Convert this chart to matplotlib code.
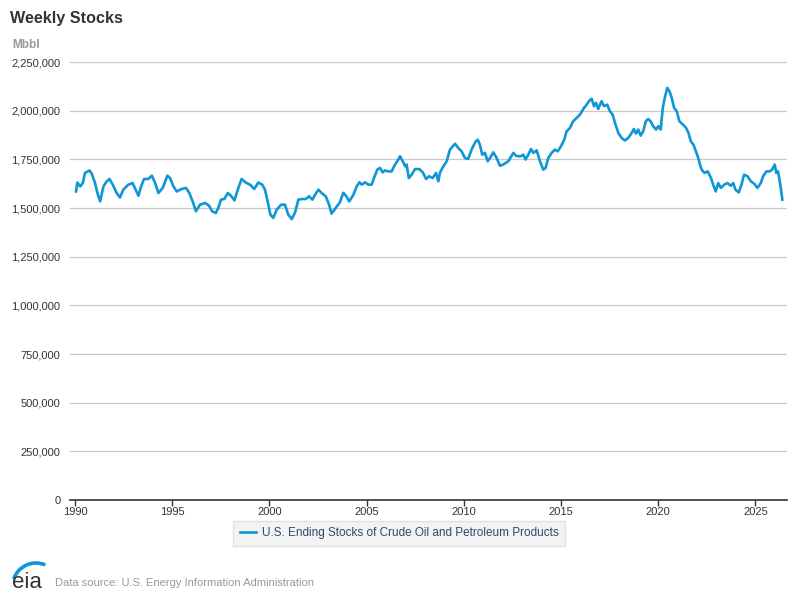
import matplotlib
matplotlib.use('Agg')
import matplotlib.pyplot as plt
from matplotlib.patches import Arc
from matplotlib.ticker import FuncFormatter

plt.rcParams['font.family'] = ['Liberation Sans', 'DejaVu Sans']

# weekly stocks (decimal year, thousand barrels)
years = [
    1990.05, 1990.12, 1990.26, 1990.40, 1990.51, 1990.74, 1990.86, 1991.03, 1991.15, 1991.29,
    1991.46, 1991.63, 1991.77, 1991.94, 1992.14, 1992.31, 1992.48, 1992.74, 1992.96, 1993.12,
    1993.26, 1993.40, 1993.55, 1993.77, 1993.95, 1994.12, 1994.29, 1994.51, 1994.75, 1994.89,
    1995.06, 1995.23, 1995.49, 1995.71, 1995.88, 1996.05, 1996.22, 1996.43, 1996.69, 1996.89,
    1997.06, 1997.24, 1997.37, 1997.51, 1997.68, 1997.86, 1998.02, 1998.20, 1998.37, 1998.57,
    1998.78, 1999.00, 1999.22, 1999.43, 1999.63, 1999.77, 1999.91, 2000.05, 2000.20, 2000.37,
    2000.60, 2000.80, 2000.97, 2001.15, 2001.32, 2001.49, 2001.69, 2001.87, 2002.04, 2002.21,
    2002.38, 2002.52, 2002.69, 2002.90, 2003.07, 2003.20, 2003.41, 2003.63, 2003.80, 2003.94,
    2004.11, 2004.32, 2004.49, 2004.63, 2004.76, 2004.92, 2005.09, 2005.26, 2005.38, 2005.55,
    2005.69, 2005.83, 2005.95, 2006.12, 2006.29, 2006.46, 2006.58, 2006.72, 2006.86, 2006.99,
    2007.06, 2007.17, 2007.32, 2007.49, 2007.71, 2007.89, 2008.06, 2008.22, 2008.40, 2008.57,
    2008.69, 2008.78, 2008.95, 2009.12, 2009.29, 2009.55, 2009.72, 2009.89, 2010.06, 2010.23,
    2010.40, 2010.60, 2010.72, 2010.83, 2010.95, 2011.09, 2011.23, 2011.35, 2011.52, 2011.69,
    2011.86, 2012.03, 2012.29, 2012.55, 2012.72, 2012.94, 2013.06, 2013.18, 2013.32, 2013.46,
    2013.58, 2013.75, 2013.92, 2014.09, 2014.21, 2014.35, 2014.52, 2014.69, 2014.83, 2015.00,
    2015.17, 2015.29, 2015.46, 2015.63, 2015.81, 2015.98, 2016.15, 2016.32, 2016.49, 2016.58,
    2016.70, 2016.80, 2016.92, 2017.09, 2017.21, 2017.38, 2017.52, 2017.66, 2017.78, 2017.95,
    2018.12, 2018.29, 2018.46, 2018.64, 2018.75, 2018.86, 2018.98, 2019.10, 2019.23, 2019.37,
    2019.49, 2019.61, 2019.75, 2019.89, 2020.01, 2020.13, 2020.24, 2020.36, 2020.47, 2020.58,
    2020.70, 2020.82, 2020.96, 2021.09, 2021.27, 2021.44, 2021.56, 2021.68, 2021.82, 2021.96,
    2022.07, 2022.16, 2022.24, 2022.38, 2022.55, 2022.72, 2022.83, 2022.96, 2023.09, 2023.23,
    2023.40, 2023.57, 2023.74, 2023.86, 2023.98, 2024.15, 2024.29, 2024.42, 2024.60, 2024.77,
    2024.94, 2025.11, 2025.28, 2025.40, 2025.57, 2025.74, 2025.86, 2026.00, 2026.08, 2026.17,
    2026.30, 2026.39,
]
stocks = [
    1585, 1631, 1611, 1628, 1680, 1693, 1676, 1628, 1577, 1534,
    1611, 1637, 1649, 1620, 1577, 1554, 1594, 1620, 1628, 1594,
    1563, 1611, 1649, 1649, 1666, 1628, 1577, 1603, 1666, 1654,
    1611, 1585, 1598, 1603, 1577, 1534, 1483, 1517, 1526, 1512,
    1483, 1474, 1500, 1543, 1546, 1577, 1563, 1539, 1594, 1649,
    1631, 1620, 1598, 1631, 1620, 1594, 1534, 1466, 1449, 1491,
    1517, 1517, 1466, 1443, 1477, 1543, 1546, 1546, 1560, 1543,
    1573, 1594, 1577, 1560, 1517, 1471, 1500, 1530, 1578, 1563,
    1534, 1568, 1611, 1632, 1620, 1632, 1620, 1620, 1654, 1697,
    1706, 1683, 1693, 1688, 1688, 1723, 1740, 1766, 1740, 1714,
    1723, 1654, 1671, 1700, 1700, 1683, 1649, 1663, 1654, 1680,
    1637, 1683, 1714, 1740, 1800, 1830, 1808, 1791, 1757, 1752,
    1800, 1840, 1851, 1825, 1774, 1783, 1740, 1757, 1786, 1757,
    1717, 1723, 1740, 1783, 1766, 1766, 1774, 1749, 1774, 1803,
    1783, 1796, 1740, 1697, 1706, 1757, 1783, 1800, 1791, 1817,
    1851, 1894, 1911, 1946, 1963, 1980, 2009, 2031, 2055, 2061,
    2023, 2040, 2009, 2049, 2023, 2031, 1997, 1980, 1937, 1886,
    1860, 1847, 1860, 1886, 1906, 1882, 1903, 1872, 1894, 1946,
    1957, 1946, 1920, 1903, 1920, 1903, 2015, 2074, 2117, 2100,
    2066, 2015, 1997, 1946, 1929, 1911, 1886, 1843, 1825, 1786,
    1755, 1720, 1697, 1680, 1688, 1654, 1620, 1585, 1628, 1603,
    1620, 1628, 1614, 1628, 1594, 1580, 1620, 1671, 1663, 1637,
    1625, 1603, 1628, 1663, 1688, 1688, 1697, 1723, 1680, 1688,
    1611, 1543,
]
stocks = [v * 1000 for v in stocks]

year_ticks = [1990, 1995, 2000, 2005, 2010, 2015, 2020, 2025]
value_ticks = [0, 250000, 500000, 750000, 1000000, 1250000, 1500000, 1750000, 2000000, 2250000]
series_name = 'U.S. Ending Stocks of Crude Oil and Petroleum Products'

blue = '#0f96d6'

fig = plt.figure(figsize=(8, 6), dpi=100)
ax = fig.add_axes([70/800, 100/600, 717/800, 438/600])

ax.plot(years, stocks, color=blue, linewidth=1.9, label=series_name)

ax.set_xlim(1989.74, 2026.63)
ax.set_ylim(0, 2250000)
ax.set_xticks(year_ticks)
ax.set_yticks(value_ticks)
ax.yaxis.set_major_formatter(FuncFormatter(lambda v, p: '{:,.0f}'.format(v)))
ax.grid(axis='y', color='#c8c8c8', linewidth=0.9)
ax.set_axisbelow(True)
for s in ['top', 'right', 'left']:
    ax.spines[s].set_visible(False)
ax.spines['bottom'].set_color('#333333')
ax.spines['bottom'].set_linewidth(1.2)
ax.tick_params(axis='y', length=0, pad=7, labelsize=8, labelcolor='#333333')
ax.tick_params(axis='x', length=4, width=1, color='#333333', pad=1, labelsize=8, labelcolor='#333333')

leg = ax.legend(loc='upper center', bbox_to_anchor=(0.459, -0.047), fontsize=8.5,
                frameon=True, fancybox=False, handlelength=1.4, handletextpad=0.5,
                borderpad=0.55, borderaxespad=0)
leg.get_frame().set_facecolor('#f0f0f0')
leg.get_frame().set_edgecolor('#dddddd')
for t in leg.get_texts():
    t.set_color('#2c4a6e')

fig.text(10/800, 1 - 18/600, 'Weekly Stocks', fontsize=11.6, fontweight='bold', color='#333333', va='center')
fig.text(12/800, 1 - 45/600, 'Mbbl', fontsize=8.5, fontweight='bold', color='#999999', va='center')
fig.text(55/800, 1 - 583/600, 'Data source: U.S. Energy Information Administration',
         fontsize=8, color='#999999', va='center')

# eia logo (units are pixels, y going up from image row 592)
logo = fig.add_axes([8/800, 8/600, 40/800, 34/600])
logo.set_xlim(0, 40)
logo.set_ylim(0, 34)
logo.axis('off')
logo.text(4, 4, 'eia', fontsize=16, color='#333333', va='baseline', ha='left')
logo.add_patch(Arc((28, 4), 48, 50, theta1=68, theta2=158, color=blue, linewidth=2.6))

plt.savefig('out.png', dpi=100)
